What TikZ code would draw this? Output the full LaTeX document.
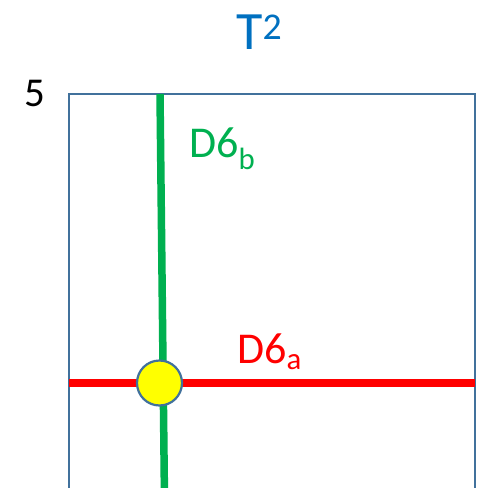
\documentclass[tikz,border=0pt]{standalone}
\usepackage{fontspec}
\setmainfont{Carlito}
\usetikzlibrary{positioning}
\definecolor{tsBlue}{HTML}{0070C0}
\definecolor{tsFrame}{HTML}{41719C}
\definecolor{tsGreen}{HTML}{00B050}
\definecolor{tsRed}{HTML}{FF0000}
\definecolor{tsYellow}{HTML}{FFFF00}
\tikzset{
  frame/.style={draw=tsFrame, line width=1.6pt},
  brane/.style={line width=7.5pt},
  lbl/.style={inner sep=0pt, anchor=base west},
  meet/.style={circle, draw=tsFrame, line width=2.2pt, fill=tsYellow, minimum size=45pt, inner sep=0pt},
}

\begin{document}
\begin{tikzpicture}[x=1pt, y=-1pt]
  \useasboundingbox (0,0) rectangle (483,488);
  \clip (0,0) rectangle (483,488);
  % torus square, cut off at the bottom
  \coordinate (bl) at (69,500);
  \coordinate (tl) at (69,94);
  \coordinate (tr) at (475,94);
  \coordinate (br) at (475,500);
  \draw[frame] (bl) -- (tl) -- (tr) -- (br);
  \node[lbl, font=\fontsize{54}{54}\selectfont, text=tsBlue] (title) at (236,49) {T\textsuperscript{2}};
  \node[lbl, font=\fontsize{41}{41}\selectfont] (five) at (24,106) {5};
  % branes
  \coordinate (ra) at (69,383);
  \coordinate (rb) at (475,383);
  \coordinate (ga) at (160,94);
  \coordinate (gb) at (164.5,500);
  \draw[brane, tsRed] (ra) -- (rb);
  \draw[brane, tsGreen] (ga) -- (gb);
  \node[meet] (x) at (159.5,383) {};
  \node[lbl, font=\fontsize{44}{44}\selectfont, text=tsRed] (da) at (237,363) {D6\textsubscript{a}};
  \node[lbl, font=\fontsize{44}{44}\selectfont, text=tsGreen] (db) at (189,157) {D6\textsubscript{b}};
\end{tikzpicture}
\end{document}
